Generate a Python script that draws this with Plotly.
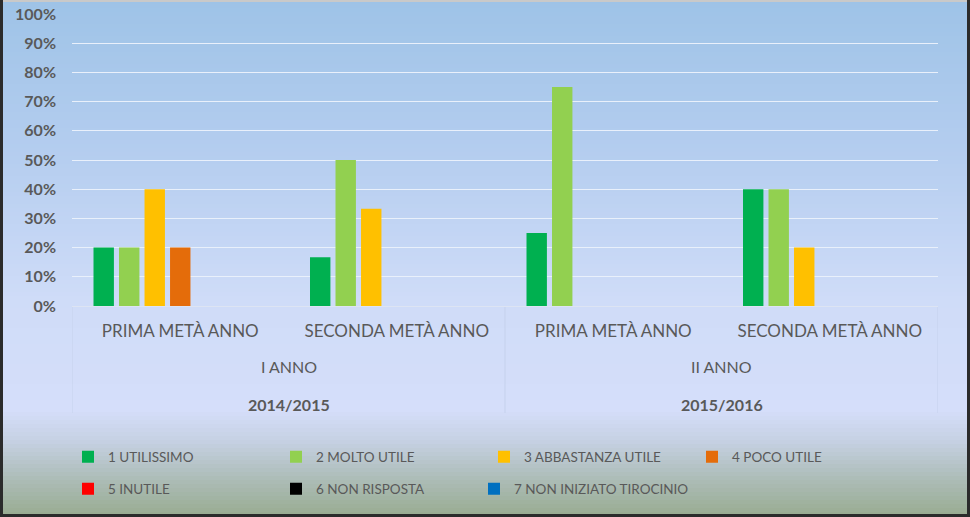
import plotly.graph_objects as go

# ---- data ----
sub_categories = ["PRIMA METÀ ANNO", "SECONDA METÀ ANNO", "PRIMA METÀ ANNO", "SECONDA METÀ ANNO"]
year_labels = ["I ANNO", "II ANNO"]
school_years = ["2014/2015", "2015/2016"]
series_names = ["1 UTILISSIMO", "2 MOLTO UTILE", "3 ABBASTANZA UTILE", "4 POCO UTILE",
                "5 INUTILE", "6 NON RISPOSTA", "7 NON INIZIATO TIROCINIO"]
utilissimo = [0.20, 0.1667, 0.25, 0.40]
molto_utile = [0.20, 0.50, 0.75, 0.40]
abbastanza_utile = [0.40, 0.3333, 0.0, 0.20]
poco_utile = [0.20, 0.0, 0.0, 0.0]
inutile = [0.0, 0.0, 0.0, 0.0]
non_risposta = [0.0, 0.0, 0.0, 0.0]
non_iniziato = [0.0, 0.0, 0.0, 0.0]
series_values = [utilissimo, molto_utile, abbastanza_utile, poco_utile, inutile, non_risposta, non_iniziato]
tick_values = [0, 0.1, 0.2, 0.3, 0.4, 0.5, 0.6, 0.7, 0.8, 0.9, 1.0]
tick_labels = ["0%", "10%", "20%", "30%", "40%", "50%", "60%", "70%", "80%", "90%", "100%"]

colors = ["#00b050", "#92d050", "#ffc000", "#e46c0a", "#ff0000", "#000000", "#0070c0"]
legend_ids = ["legend", "legend", "legend", "legend", "legend2", "legend2", "legend3"]

W, H = 970, 517
L, R, T, B = 72, 32, 14, 211
PW, PH = W - L - R, H - T - B

def px_x(px):
    return (px - L) / PW

def px_y(py):
    return (H - B - py) / PH

FONT = "Lato, 'Open Sans', sans-serif"
TXT = "#595959"

fig = go.Figure()
xpos = list(range(len(sub_categories)))
for i, (name, vals) in enumerate(zip(series_names, series_values)):
    fig.add_trace(go.Bar(
        x=xpos, y=vals, name=name,
        marker=dict(color=colors[i], line=dict(width=0)),
        legend=legend_ids[i],
        hoverinfo="skip",
    ))

# ---- background gradient ----
stops = [(0, (158, 195, 231)), (150, (180, 205, 239)), (300, (207, 220, 248)),
         (410, (213, 222, 250)), (440, (198, 209, 228)), (480, (172, 188, 182)), (517, (152, 171, 144))]

def col_at(py):
    for (y0, c0), (y1, c1) in zip(stops[:-1], stops[1:]):
        if y0 <= py <= y1:
            t = (py - y0) / (y1 - y0) if y1 > y0 else 0
            return "rgb(%d,%d,%d)" % tuple(round(a + (b - a) * t) for a, b in zip(c0, c1))
    return "rgb(%d,%d,%d)" % stops[-1][1]

shapes = []
step = 4
for py in range(0, H, step):
    shapes.append(dict(type="rect", xref="paper", yref="paper", layer="below",
                       x0=px_x(0), x1=px_x(W), y0=px_y(py + step + 0.5), y1=px_y(py),
                       fillcolor=col_at(py + step / 2), line=dict(width=0)))

# category dividers
for xv in [-0.5, 1.5, 3.5]:
    shapes.append(dict(type="line", xref="x", yref="paper", x0=xv, x1=xv,
                       y0=0, y1=px_y(413), line=dict(color="#c5d1ec", width=1), layer="below"))

# frame: light top, dark left/right/bottom
shapes.append(dict(type="line", xref="paper", yref="paper", x0=px_x(0), x1=px_x(W), y0=px_y(1), y1=px_y(1),
                   line=dict(color="#c9c9c9", width=2), layer="above"))
for (xa, ya, xb, yb) in [(1.5, 0, 1.5, H), (W - 1.5, 0, W - 1.5, H), (0, H - 1.5, W, H - 1.5)]:
    shapes.append(dict(type="line", xref="paper", yref="paper",
                       x0=px_x(xa), x1=px_x(xb), y0=px_y(ya), y1=px_y(yb),
                       line=dict(color="#2b2b2b", width=3), layer="above"))

annotations = []
for k, (lab, yr) in enumerate(zip(year_labels, school_years)):
    cx = 2 * k + 0.5
    annotations.append(dict(x=cx, y=px_y(366), xref="x", yref="paper", text=lab, showarrow=False,
                            font=dict(family=FONT, size=16, color=TXT), yanchor="middle"))
    annotations.append(dict(x=cx, y=px_y(404), xref="x", yref="paper", text="<b>" + yr + "</b>",
                            showarrow=False, font=dict(family=FONT, size=16, color=TXT), yanchor="middle"))

legend_common = dict(orientation="h", xanchor="left", yanchor="middle",
                     entrywidth=163, entrywidthmode="pixels", bgcolor="rgba(0,0,0,0)",
                     font=dict(family=FONT, size=13.5, color=TXT), itemclick=False, itemdoubleclick=False)

fig.update_layout(
    width=W, height=H,
    margin=dict(l=L, r=R, t=T, b=B, pad=0, autoexpand=False),
    paper_bgcolor="#d5defa",
    plot_bgcolor="rgba(0,0,0,0)",
    barmode="group", bargap=0.175, bargroupgap=0.2,
    shapes=shapes, annotations=annotations,
    font=dict(family=FONT, color=TXT),
    xaxis=dict(tickvals=xpos, ticktext=sub_categories, range=[-0.5, 3.5],
               showgrid=False, zeroline=False, showline=True, linecolor="#dde4f3", linewidth=1,
               ticks="", tickfont=dict(family=FONT, size=17, color=TXT), ticklabelstandoff=10),
    yaxis=dict(range=[0, 1.0], tickvals=tick_values, ticktext=tick_labels,
               showgrid=True, gridcolor="#e9f0fb", gridwidth=1, zeroline=False, showline=False,
               ticks="", tickfont=dict(family=FONT, size=16, color=TXT, weight="bold"),
               ticklabelstandoff=15),
    legend=dict(x=px_x(68), y=px_y(457), **legend_common),
    legend2=dict(x=px_x(68), y=px_y(489), **legend_common),
    legend3=dict(x=px_x(68 + 2 * 203), y=px_y(489),
                 **{k: v for k, v in legend_common.items() if k not in ("entrywidth", "entrywidthmode")}),
)

fig.write_html("out.html", config={"displayModeBar": False},
               post_script="document.body.style.margin='0';document.body.style.overflow='hidden';")
